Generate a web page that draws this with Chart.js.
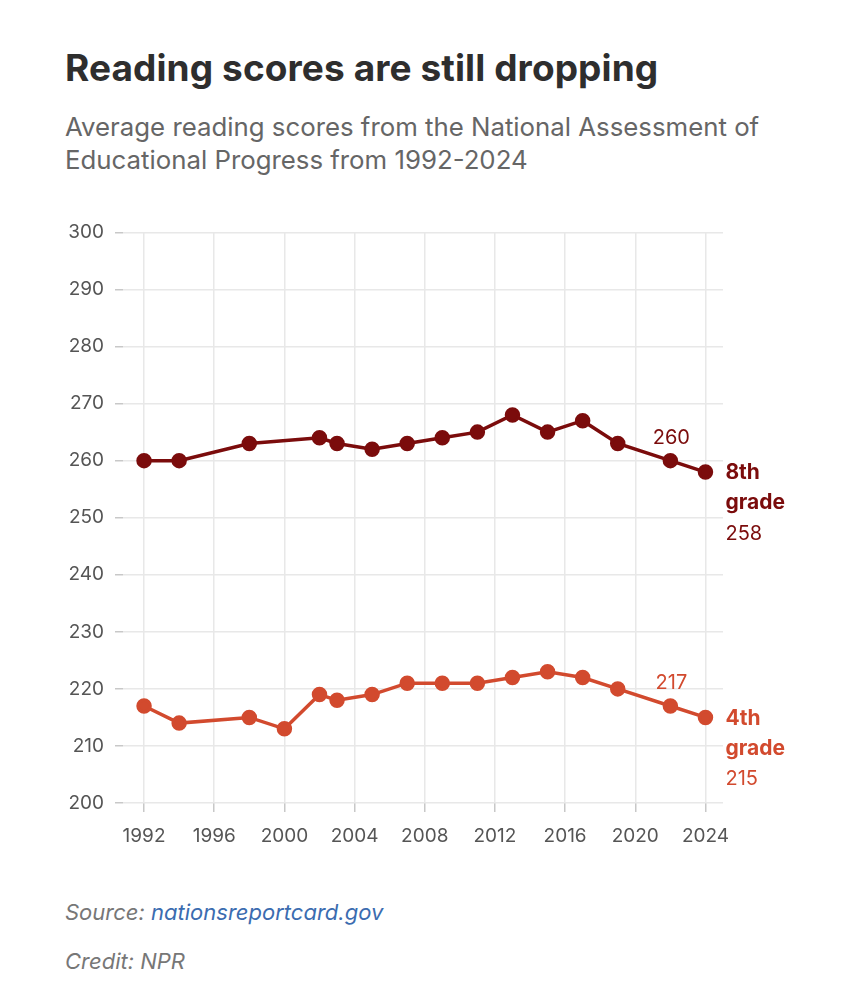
<!DOCTYPE html>
<html>
<head>
<meta charset="utf-8">
<script src="https://cdn.jsdelivr.net/npm/chart.js@4.4.1/dist/chart.umd.min.js"></script>
<style>
  html, body { margin: 0; padding: 0; background: #fff; }
  body { width: 863px; height: 1000px; position: relative; overflow: hidden; font-family: "Inter", sans-serif; }
  #title { position: absolute; left: 65px; top: 45px; font-size: 37px; line-height: 45px; font-weight: 700; color: #2e2e2e; letter-spacing: 0.1px; white-space: nowrap; }
  #subtitle { position: absolute; left: 65px; top: 110px; font-size: 25.8px; line-height: 33px; color: #666; width: 795px; white-space: nowrap; }
  #chartWrap { position: absolute; left: 0; top: 210px; width: 863px; height: 640px; }
  #source { position: absolute; left: 65px; top: 899px; font-size: 22px; line-height: 27px; font-style: italic; color: #777; }
  #source span { color: #3b6cb0; }
  #credit { position: absolute; left: 65px; top: 948px; font-size: 22px; line-height: 27px; font-style: italic; color: #777; }
</style>
</head>
<body>
<div id="title">Reading scores are still dropping</div>
<div id="subtitle">Average reading scores from the National Assessment of<br>Educational Progress from 1992-2024</div>
<div id="chartWrap"><canvas id="c" width="863" height="640"></canvas></div>
<div id="source">Source: <span>nationsreportcard.gov</span></div>
<div id="credit">Credit: NPR</div>
<script>
const years8 = [1992, 1994, 1998, 2002, 2003, 2005, 2007, 2009, 2011, 2013, 2015, 2017, 2019, 2022, 2024];
const scores8 = [260, 260, 263, 264, 263, 262, 263, 264, 265, 268, 265, 267, 263, 260, 258];
const years4 = [1992, 1994, 1998, 2000, 2002, 2003, 2005, 2007, 2009, 2011, 2013, 2015, 2017, 2019, 2022, 2024];
const scores4 = [217, 214, 215, 213, 219, 218, 219, 221, 221, 221, 222, 223, 222, 220, 217, 215];
const xTicks = [1992, 1996, 2000, 2004, 2008, 2012, 2016, 2020, 2024];
const yTicks = [200, 210, 220, 230, 240, 250, 260, 270, 280, 290, 300];
const labels8 = ["8th", "grade"];
const labels4 = ["4th", "grade"];

const color8 = "#7b0c0c";
const color4 = "#d24a2e";
const FONT = '"Inter", sans-serif';

const annot = {
  id: "annot",
  afterDatasetsDraw(chart) {
    const ctx = chart.ctx;
    const xs = chart.scales.x, ys = chart.scales.y;
    function draw(years, scores, lbls, color) {
      const n = years.length;
      const px = xs.getPixelForValue(years[n - 2]);
      const py = ys.getPixelForValue(scores[n - 2]);
      ctx.save();
      ctx.fillStyle = color;
      ctx.textAlign = "center";
      ctx.textBaseline = "middle";
      ctx.font = "20px " + FONT;
      ctx.fillText(String(scores[n - 2]), px + 1, py - 23);
      const lx = xs.getPixelForValue(years[n - 1]) + 20;
      const ly = ys.getPixelForValue(scores[n - 1]);
      ctx.textAlign = "left";
      ctx.font = "700 21px " + FONT;
      ctx.fillText(lbls[0], lx, ly + 1);
      ctx.fillText(lbls[1], lx, ly + 31);
      ctx.font = "20px " + FONT;
      ctx.fillText(String(scores[n - 1]), lx, ly + 62);
      ctx.restore();
    }
    draw(years8, scores8, labels8, color8);
    draw(years4, scores4, labels4, color4);
  }
};

new Chart(document.getElementById("c"), {
  type: "line",
  data: {
    datasets: [
      {
        label: "8th grade",
        data: years8.map((y, i) => ({ x: y, y: scores8[i] })),
        borderColor: color8, backgroundColor: color8,
        pointBackgroundColor: color8, pointBorderColor: color8,
        borderWidth: 3.5, pointRadius: 6, tension: 0
      },
      {
        label: "4th grade",
        data: years4.map((y, i) => ({ x: y, y: scores4[i] })),
        borderColor: color4, backgroundColor: color4,
        pointBackgroundColor: color4, pointBorderColor: color4,
        borderWidth: 3.5, pointRadius: 6, tension: 0
      }
    ]
  },
  options: {
    responsive: false,
    animation: false,
    devicePixelRatio: 1,
    layout: { padding: { left: 0, right: 140, top: 22, bottom: 0 } },
    plugins: { legend: { display: false }, tooltip: { enabled: false } },
    scales: {
      x: {
        type: "linear",
        min: 1990.8, max: 2025,
        afterBuildTicks(s) { s.ticks = xTicks.map(v => ({ value: v })); },
        afterFit(s) { s.height = 47; },
        grid: { color: "#e8e8e8", tickColor: "#c8c8c8", tickLength: 9, lineWidth: 1.5 },
        border: { display: false },
        ticks: { color: "#555", font: { family: FONT, size: 19 }, padding: 13, callback: v => String(v), maxRotation: 0, autoSkip: false }
      },
      y: {
        min: 200, max: 300,
        afterBuildTicks(s) { s.ticks = yTicks.map(v => ({ value: v })); },
        afterFit(s) { s.width = 123; },
        grid: { color: "#e8e8e8", tickColor: "#c8c8c8", tickLength: 8, lineWidth: 1.5 },
        border: { display: false },
        ticks: { color: "#555", font: { family: FONT, size: 19 }, padding: 11, callback: v => String(v) }
      }
    }
  },
  plugins: [annot]
});
</script>
</body>
</html>
